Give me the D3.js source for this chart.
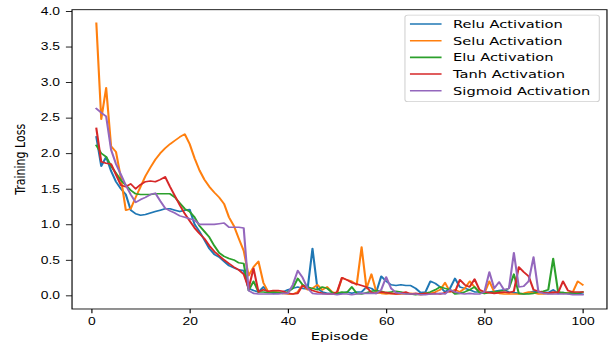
<!DOCTYPE html>
<html><head><meta charset="utf-8">
<script src="https://cdn.jsdelivr.net/npm/d3@7"></script>
<style>html,body{margin:0;padding:0;background:#fff;overflow:hidden}svg{display:block}</style>
</head><body>
<script>
const episodes = d3.range(1, 101);
const seriesNames = ["Relu Activation","Selu Activation","Elu Activation","Tanh Activation","Sigmoid Activation"];
const colors = ["#1f77b4","#ff7f0e","#2ca02c","#d62728","#9467bd"];
const relu = [2.23,1.82,1.95,1.75,1.60,1.50,1.42,1.20,1.15,1.13,
1.14,1.16,1.18,1.20,1.22,1.22,1.20,1.18,1.20,1.21,
1.00,0.90,0.78,0.66,0.58,0.54,0.48,0.42,0.39,0.36,
0.35,0.10,0.07,0.05,0.12,0.05,0.03,0.04,0.05,0.08,
0.10,0.12,0.10,0.09,0.66,0.10,0.05,0.03,0.03,0.02,
0.03,0.05,0.03,0.05,0.05,0.12,0.10,0.05,0.27,0.20,
0.15,0.14,0.15,0.14,0.14,0.10,0.04,0.05,0.20,0.17,
0.12,0.05,0.10,0.24,0.12,0.10,0.08,0.05,0.05,0.04,
0.05,0.06,0.07,0.08,0.05,0.04,0.03,0.02,0.04,0.06,
0.04,0.05,0.04,0.08,0.03,0.04,0.03,0.02,0.03,0.02];
const selu = [3.83,2.48,2.92,2.10,2.02,1.65,1.20,1.22,1.38,1.53,
1.68,1.80,1.91,2.00,2.07,2.13,2.18,2.23,2.27,2.13,
1.93,1.76,1.63,1.53,1.45,1.38,1.29,1.10,0.98,0.80,
0.63,0.28,0.40,0.48,0.18,0.05,0.06,0.05,0.03,0.02,
0.02,0.05,0.15,0.08,0.10,0.15,0.08,0.12,0.05,0.03,
0.25,0.22,0.20,0.15,0.68,0.10,0.30,0.05,0.03,0.02,
0.03,0.02,0.02,0.02,0.03,0.02,0.01,0.02,0.03,0.05,
0.08,0.18,0.05,0.08,0.05,0.10,0.20,0.12,0.05,0.03,
0.20,0.05,0.03,0.02,0.02,0.02,0.02,0.03,0.05,0.04,
0.02,0.02,0.03,0.03,0.05,0.03,0.04,0.05,0.20,0.15];
const elu = [2.11,2.00,1.95,1.82,1.72,1.62,1.55,1.48,1.43,1.42,
1.42,1.42,1.43,1.43,1.43,1.43,1.38,1.30,1.22,1.18,
1.10,0.98,0.90,0.82,0.70,0.60,0.55,0.52,0.50,0.46,
0.45,0.07,0.20,0.05,0.05,0.04,0.05,0.04,0.03,0.05,
0.10,0.24,0.15,0.12,0.10,0.08,0.12,0.10,0.04,0.03,
0.05,0.04,0.12,0.03,0.02,0.04,0.06,0.07,0.06,0.04,
0.05,0.06,0.05,0.03,0.02,0.01,0.02,0.03,0.05,0.08,
0.12,0.10,0.08,0.02,0.03,0.05,0.08,0.12,0.04,0.03,
0.04,0.05,0.06,0.07,0.10,0.30,0.03,0.02,0.02,0.03,
0.05,0.06,0.08,0.52,0.05,0.04,0.03,0.04,0.03,0.05];
const tanh = [2.35,1.88,1.86,1.85,1.70,1.55,1.53,1.57,1.50,1.56,
1.60,1.61,1.60,1.63,1.67,1.53,1.40,1.27,1.15,1.05,
0.95,0.87,0.80,0.70,0.62,0.56,0.50,0.45,0.40,0.36,
0.30,0.10,0.38,0.05,0.08,0.06,0.07,0.07,0.06,0.03,
0.02,0.03,0.14,0.10,0.07,0.05,0.03,0.02,0.02,0.05,
0.25,0.22,0.18,0.16,0.14,0.12,0.04,0.03,0.05,0.04,
0.03,0.02,0.03,0.05,0.02,0.03,0.02,0.03,0.02,0.03,
0.02,0.04,0.06,0.05,0.22,0.15,0.12,0.23,0.08,0.05,
0.04,0.03,0.04,0.05,0.04,0.06,0.40,0.33,0.27,0.08,
0.06,0.04,0.03,0.05,0.04,0.20,0.07,0.05,0.05,0.05];
const sigmoid = [2.63,2.57,2.52,2.05,1.85,1.70,1.55,1.42,1.31,1.35,
1.38,1.42,1.44,1.33,1.23,1.19,1.16,1.12,1.10,1.08,
1.06,1.00,1.00,1.00,1.00,1.01,1.02,0.96,0.96,0.96,
0.95,0.07,0.03,0.02,0.02,0.02,0.02,0.02,0.03,0.03,
0.15,0.35,0.25,0.10,0.03,0.02,0.02,0.02,0.02,0.01,
0.02,0.02,0.01,0.02,0.03,0.03,0.03,0.03,0.08,0.26,
0.10,0.04,0.03,0.02,0.02,0.02,0.01,0.01,0.02,0.02,
0.03,0.02,0.08,0.05,0.03,0.02,0.03,0.02,0.02,0.05,
0.33,0.10,0.19,0.08,0.10,0.60,0.12,0.13,0.20,0.54,
0.05,0.03,0.02,0.02,0.02,0.02,0.02,0.01,0.01,0.01];
const yTicks = [0,0.5,1.0,1.5,2.0,2.5,3.0,3.5,4.0];
const xTicks = [0,20,40,60,80,100];

const allSeries = [relu, selu, elu, tanh, sigmoid];

// drawing in a 640x480 space stretched to 613x345
const W = 640, H = 480;
const L = 75.2, R = 633.7, T = 13.5, B = 429.9;
const svg = d3.select("body").append("svg")
  .attr("width", 613).attr("height", 345)
  .attr("viewBox", `0 0 ${W} ${H}`).attr("preserveAspectRatio", "none")
  .style("font-family", "'DejaVu Sans', sans-serif");

const x = d3.scaleLinear().domain([-3.95, 104.95]).range([L, R]);
const y = d3.scaleLinear().domain([-0.19, 4.02]).range([B, T]);

const line = d3.line().x((d, i) => x(episodes[i])).y(d => y(d));
svg.append("g").selectAll("path").data(allSeries).join("path")
  .attr("d", d => line(d)).attr("fill", "none")
  .attr("stroke", (d, i) => colors[i]).attr("stroke-width", 2.2)
  .attr("stroke-linejoin", "round").attr("stroke-linecap", "square");

// axes
const xAxis = svg.append("g").attr("transform", `translate(0,${B})`)
  .call(d3.axisBottom(x).tickValues(xTicks).tickFormat(d3.format("d")).tickSize(6).tickPadding(6));
const yAxis = svg.append("g").attr("transform", `translate(${L},0)`)
  .call(d3.axisLeft(y).tickValues(yTicks).tickFormat(d3.format(".1f")).tickSize(6.4).tickPadding(6.2));
[xAxis, yAxis].forEach(g => {
  g.select(".domain").remove();
  g.selectAll(".tick line").attr("stroke", "#000").attr("stroke-width", 1.2);
  g.selectAll(".tick text").attr("fill", "#000").style("font-size", "14.5px");
});
xAxis.selectAll(".tick text").attr("dy", "0.71em");

// frame
svg.append("rect").attr("x", L).attr("y", T).attr("width", R - L).attr("height", B - T)
  .attr("fill", "none").attr("stroke", "#000").attr("stroke-width", 1.2);

// labels
svg.append("text").attr("x", (L + R) / 2).attr("y", 473).attr("text-anchor", "middle")
  .style("font-size", "15.3px").attr("fill", "#000").text("Episode");
svg.append("text").attr("transform", `translate(26.5,${(T + B) / 2}) rotate(-90)`)
  .attr("text-anchor", "middle").style("font-size", "15.3px").attr("fill", "#000").text("Training Loss");

// legend
const lg = svg.append("g");
lg.append("rect").attr("x", 422.8).attr("y", 20.9).attr("width", 625.7 - 422.8).attr("height", 141.5 - 20.9)
  .attr("rx", 3).attr("fill", "#fff").attr("fill-opacity", 0.8).attr("stroke", "#d0d0d0").attr("stroke-width", 1.1);
const rows = lg.selectAll("g.row").data(seriesNames).join("g").attr("class", "row")
  .attr("transform", (d, i) => `translate(0,${33.4 + i * 23.2})`);
rows.append("line").attr("x1", 428).attr("x2", 461).attr("y1", 0).attr("y2", 0)
  .attr("stroke", (d, i) => colors[i]).attr("stroke-width", 2.2);
rows.append("text").attr("x", 473).attr("y", 0).attr("dy", "0.36em")
  .style("font-size", "15.3px").attr("fill", "#000").text(d => d);
</script>
</body></html>
